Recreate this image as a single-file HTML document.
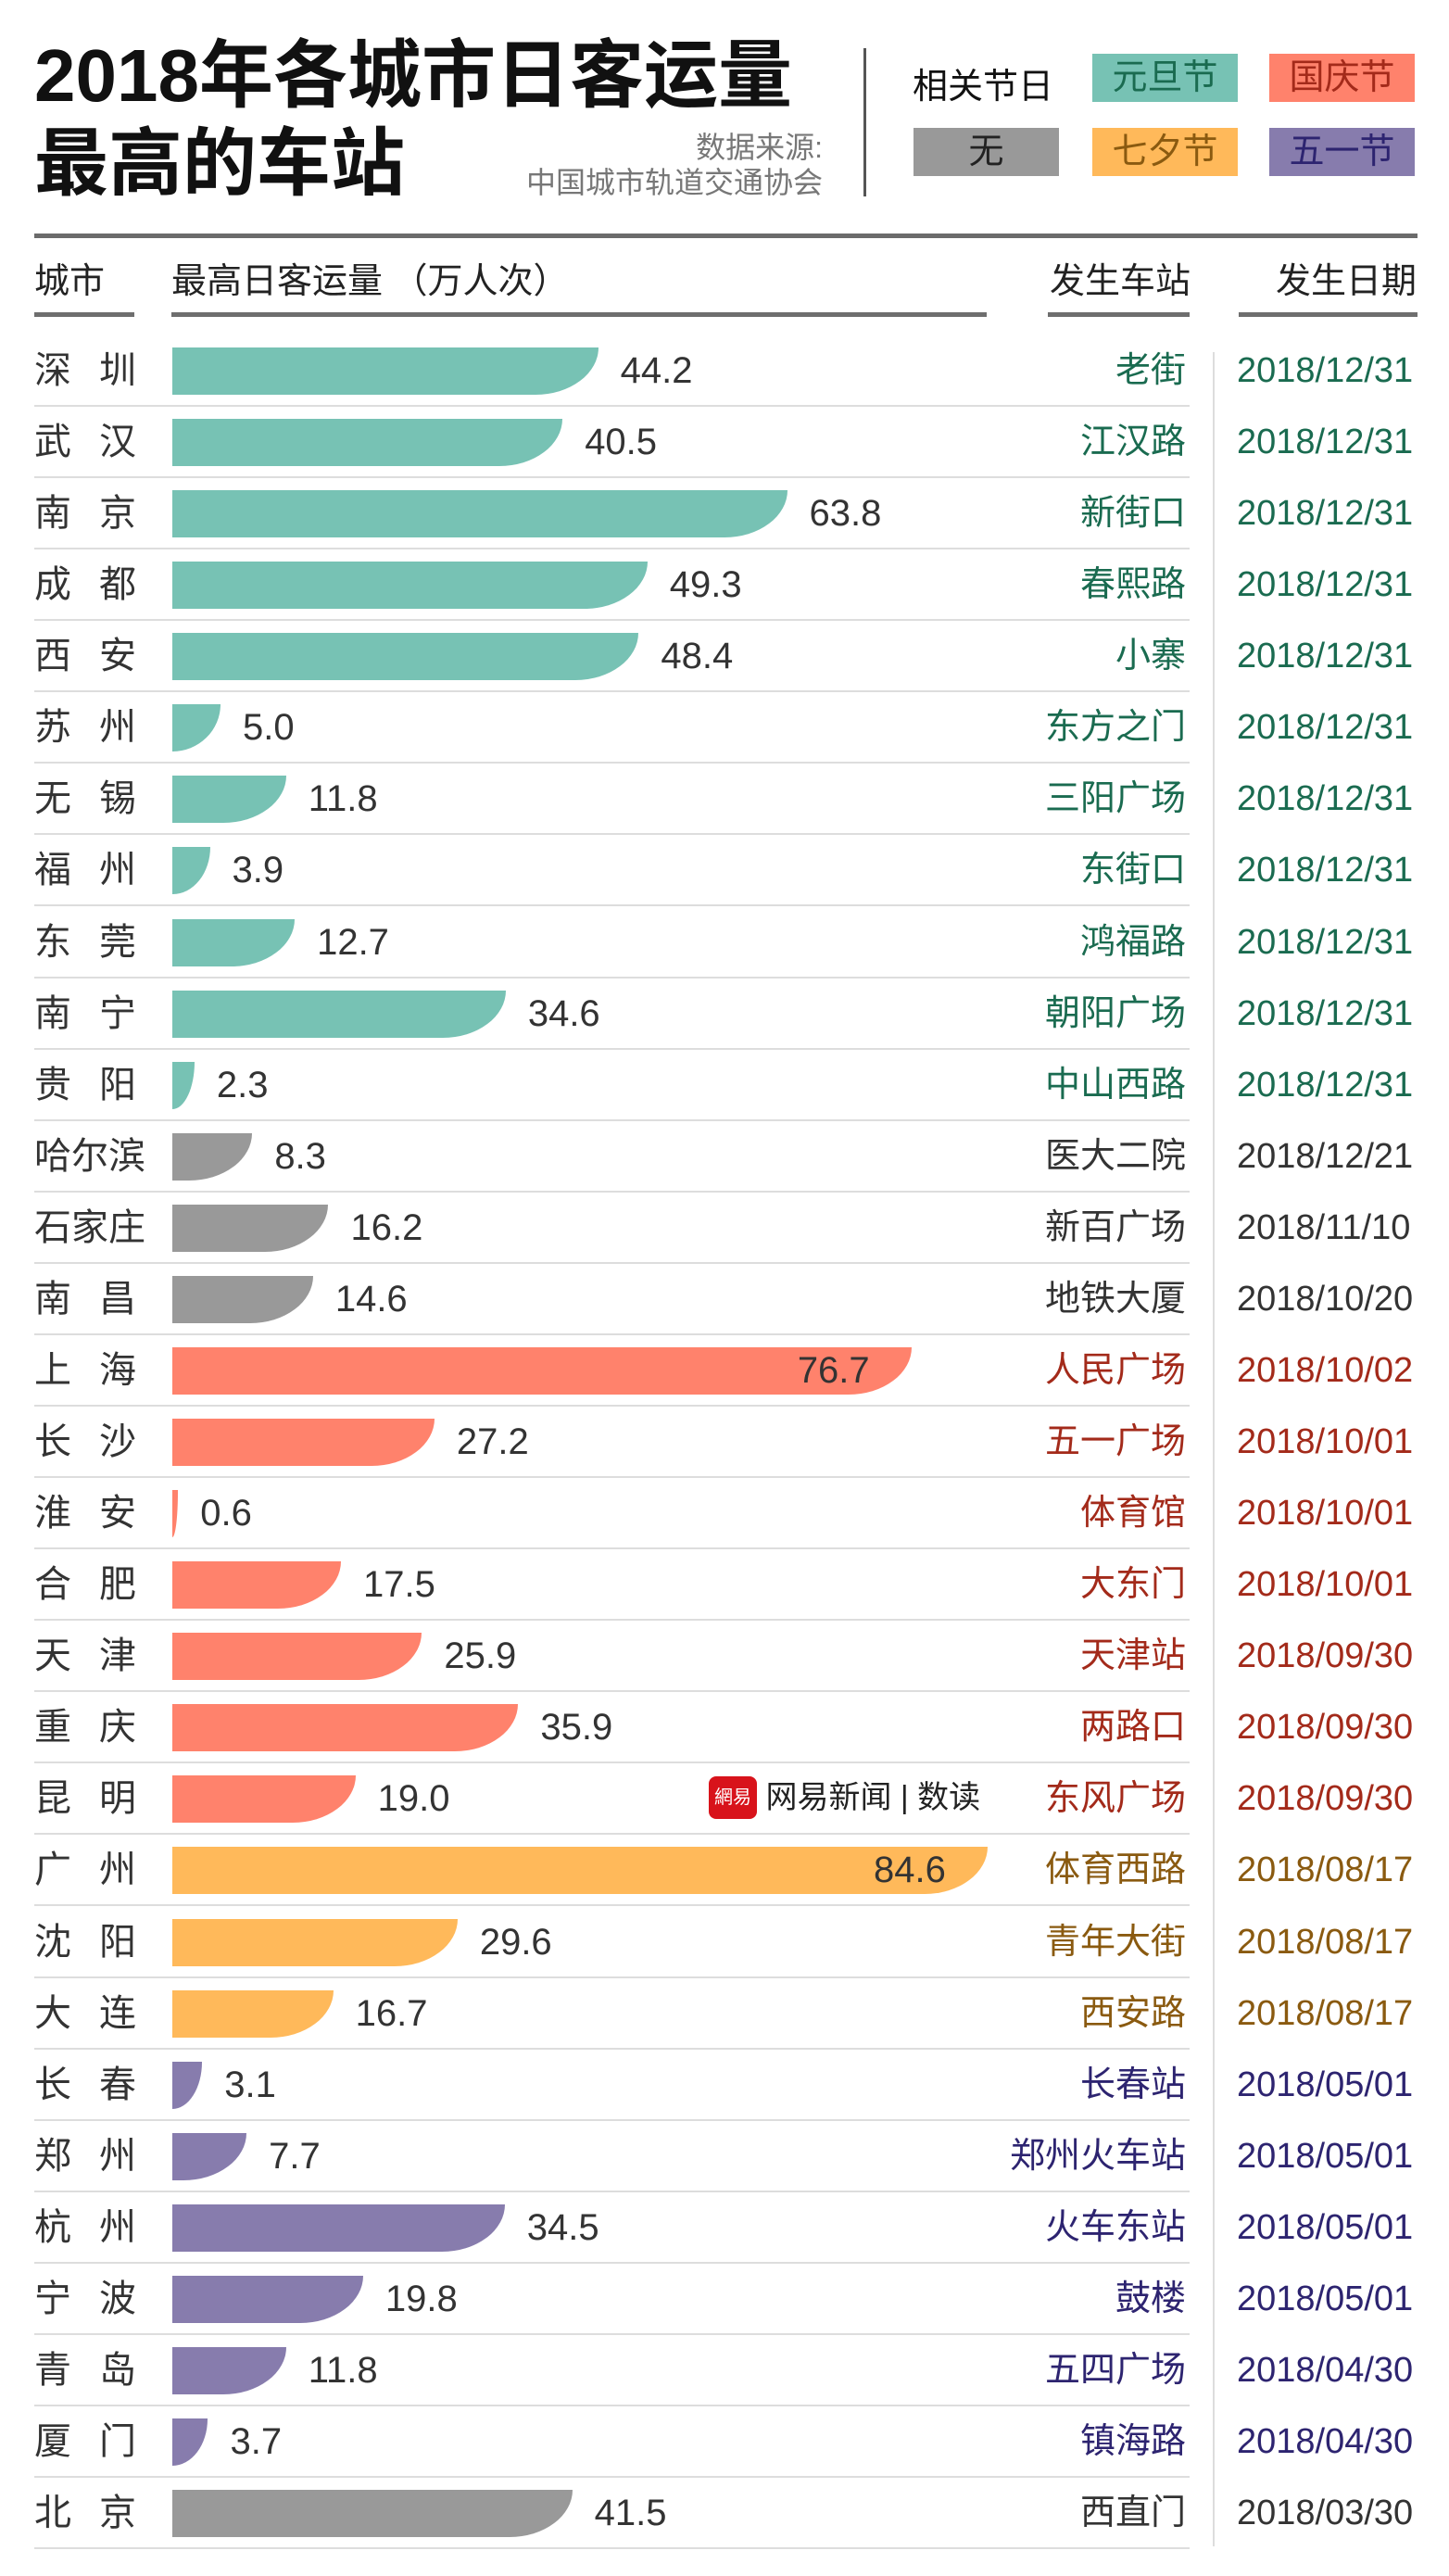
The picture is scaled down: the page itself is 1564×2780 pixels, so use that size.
<!DOCTYPE html>
<html><head><meta charset="utf-8"><style>
body{margin:0;width:1564px;height:2780px;background:#fff;position:relative;overflow:hidden;font-family:"Liberation Sans","Noto Sans CJK SC",sans-serif;color:#333}
.a{position:absolute;white-space:nowrap}
.title{font-weight:bold;font-size:80px;color:#111;line-height:1;letter-spacing:0px}
.lg{position:absolute;width:157px;height:52px;font-size:38px;line-height:52px;text-align:center}
.hd{font-size:38px;color:#222;top:272px}
.ul{position:absolute;top:337px;height:5px;background:#6e6e6e}
</style></head><body>
<div class="a title" style="left:37px;top:42px">2018年各城市日客运量</div>
<div class="a title" style="left:37px;top:137px">最高的车站</div>
<div class="a" style="right:676px;top:140px;font-size:32px;color:#777;text-align:right;line-height:38px">数据来源:<br>中国城市轨道交通协会</div>
<div class="a" style="left:932px;top:52px;width:3px;height:160px;background:#555"></div>
<div class="a" style="left:985px;top:62px;font-size:38px;color:#111">相关节日</div>
<div class="lg" style="left:1179px;top:58px;background:#77c2b4;color:#1a6b50">元旦节</div>
<div class="lg" style="left:1370px;top:58px;background:#ff826c;color:#a32a1a">国庆节</div>
<div class="lg" style="left:986px;top:138px;background:#999;color:#222">无</div>
<div class="lg" style="left:1179px;top:138px;background:#ffb95a;color:#8a5a10">七夕节</div>
<div class="lg" style="left:1370px;top:138px;background:#877cad;color:#2d2470">五一节</div>
<div class="a" style="left:37px;top:252px;width:1493px;height:5px;background:#6b6b6b"></div>
<div class="a hd" style="left:37px">城市</div>
<div class="a hd" style="left:185px">最高日客运量 （万人次）</div>
<div class="a hd" style="left:1133px">发生车站</div>
<div class="a hd" style="left:1377px">发生日期</div>
<div class="ul" style="left:37px;width:108px"></div>
<div class="ul" style="left:185px;width:880px"></div>
<div class="ul" style="left:1131px;width:153px"></div>
<div class="ul" style="left:1337px;width:193px"></div>
<div class="a" style="left:1309px;top:380px;width:2px;height:2368px;background:#ddd"></div>
<div class="a" style="left:765px;top:1917px;height:46px;font-size:34px;color:#222;line-height:46px"><span style="display:inline-block;width:52px;height:46px;background:#d8131b;color:#fff;border-radius:8px;font-size:20px;text-align:center;vertical-align:top">網易</span> 网易新闻 | 数读</div>
<div id="rows"></div>
<script>
const cities=["深 圳","武 汉","南 京","成 都","西 安","苏 州","无 锡","福 州","东 莞","南 宁","贵 阳","哈尔滨","石家庄","南 昌","上 海","长 沙","淮 安","合 肥","天 津","重 庆","昆 明","广 州","沈 阳","大 连","长 春","郑 州","杭 州","宁 波","青 岛","厦 门","北 京"];
const values=[44.2,40.5,63.8,49.3,48.4,5.0,11.8,3.9,12.7,34.6,2.3,8.3,16.2,14.6,76.7,27.2,0.6,17.5,25.9,35.9,19.0,84.6,29.6,16.7,3.1,7.7,34.5,19.8,11.8,3.7,41.5];
const stations=["老街","江汉路","新街口","春熙路","小寨","东方之门","三阳广场","东街口","鸿福路","朝阳广场","中山西路","医大二院","新百广场","地铁大厦","人民广场","五一广场","体育馆","大东门","天津站","两路口","东风广场","体育西路","青年大街","西安路","长春站","郑州火车站","火车东站","鼓楼","五四广场","镇海路","西直门"];
const dates=["2018/12/31","2018/12/31","2018/12/31","2018/12/31","2018/12/31","2018/12/31","2018/12/31","2018/12/31","2018/12/31","2018/12/31","2018/12/31","2018/12/21","2018/11/10","2018/10/20","2018/10/02","2018/10/01","2018/10/01","2018/10/01","2018/09/30","2018/09/30","2018/09/30","2018/08/17","2018/08/17","2018/08/17","2018/05/01","2018/05/01","2018/05/01","2018/05/01","2018/04/30","2018/04/30","2018/03/30"];
const holidays=["y","y","y","y","y","y","y","y","y","y","y","n","n","n","g","g","g","g","g","g","g","q","q","q","w","w","w","w","w","w","n"];
const barCol={y:"#77c2b4",n:"#999999",g:"#ff826c",q:"#ffb95a",w:"#877cad"};
const txtCol={y:"#1a6b50",n:"#333333",g:"#a32a1a",q:"#8a5a10",w:"#2d2470"};
const x0=186,kx=10.4,y0=400,pitch=77.07;
const xs=v=>v*kx, ys=i=>y0+i*pitch;
const root=document.getElementById('rows');
function mk(style,text){const d=document.createElement('div');d.className='a';d.style.cssText=style;if(text!=null)d.textContent=text;root.appendChild(d);return d;}
cities.forEach((c,i)=>{
  const cy=ys(i),w=Math.max(xs(values[i]),2),h=holidays[i];
  const two=c.indexOf(' ')>=0;
  const city=mk(`left:37px;top:${cy-24}px;font-size:40px;line-height:48px;color:#333;`+(two?'letter-spacing:30px':''),c.replace(' ',''));
  
  
  const r=Math.min(68,w);
  const bar=mk(`left:${x0}px;top:${cy-25}px;width:${w}px;height:51px;background:${barCol[h]};border-bottom-right-radius:${r}px 51px`);
  
  
  const inside=values[i]>70;
  const lbl=mk(`top:${cy-24}px;font-size:40px;line-height:48px;color:#333;`+(inside?`left:${x0+w-45}px;transform:translateX(-100%)`:`left:${x0+w+24}px`),values[i].toFixed(1));
  
  
  const st=mk(`right:${1564-1280}px;top:${cy-24}px;font-size:38px;line-height:48px;color:${txtCol[h]}`,stations[i]);
  
  
  const dt=mk(`left:1335px;top:${cy-24}px;font-size:38px;line-height:48px;color:${txtCol[h]}`,dates[i]);
  
  
  const sep=mk(`left:37px;top:${cy+37}px;width:1247px;height:2px;background:#ddd`);
  
  
});
</script>
</body></html>
